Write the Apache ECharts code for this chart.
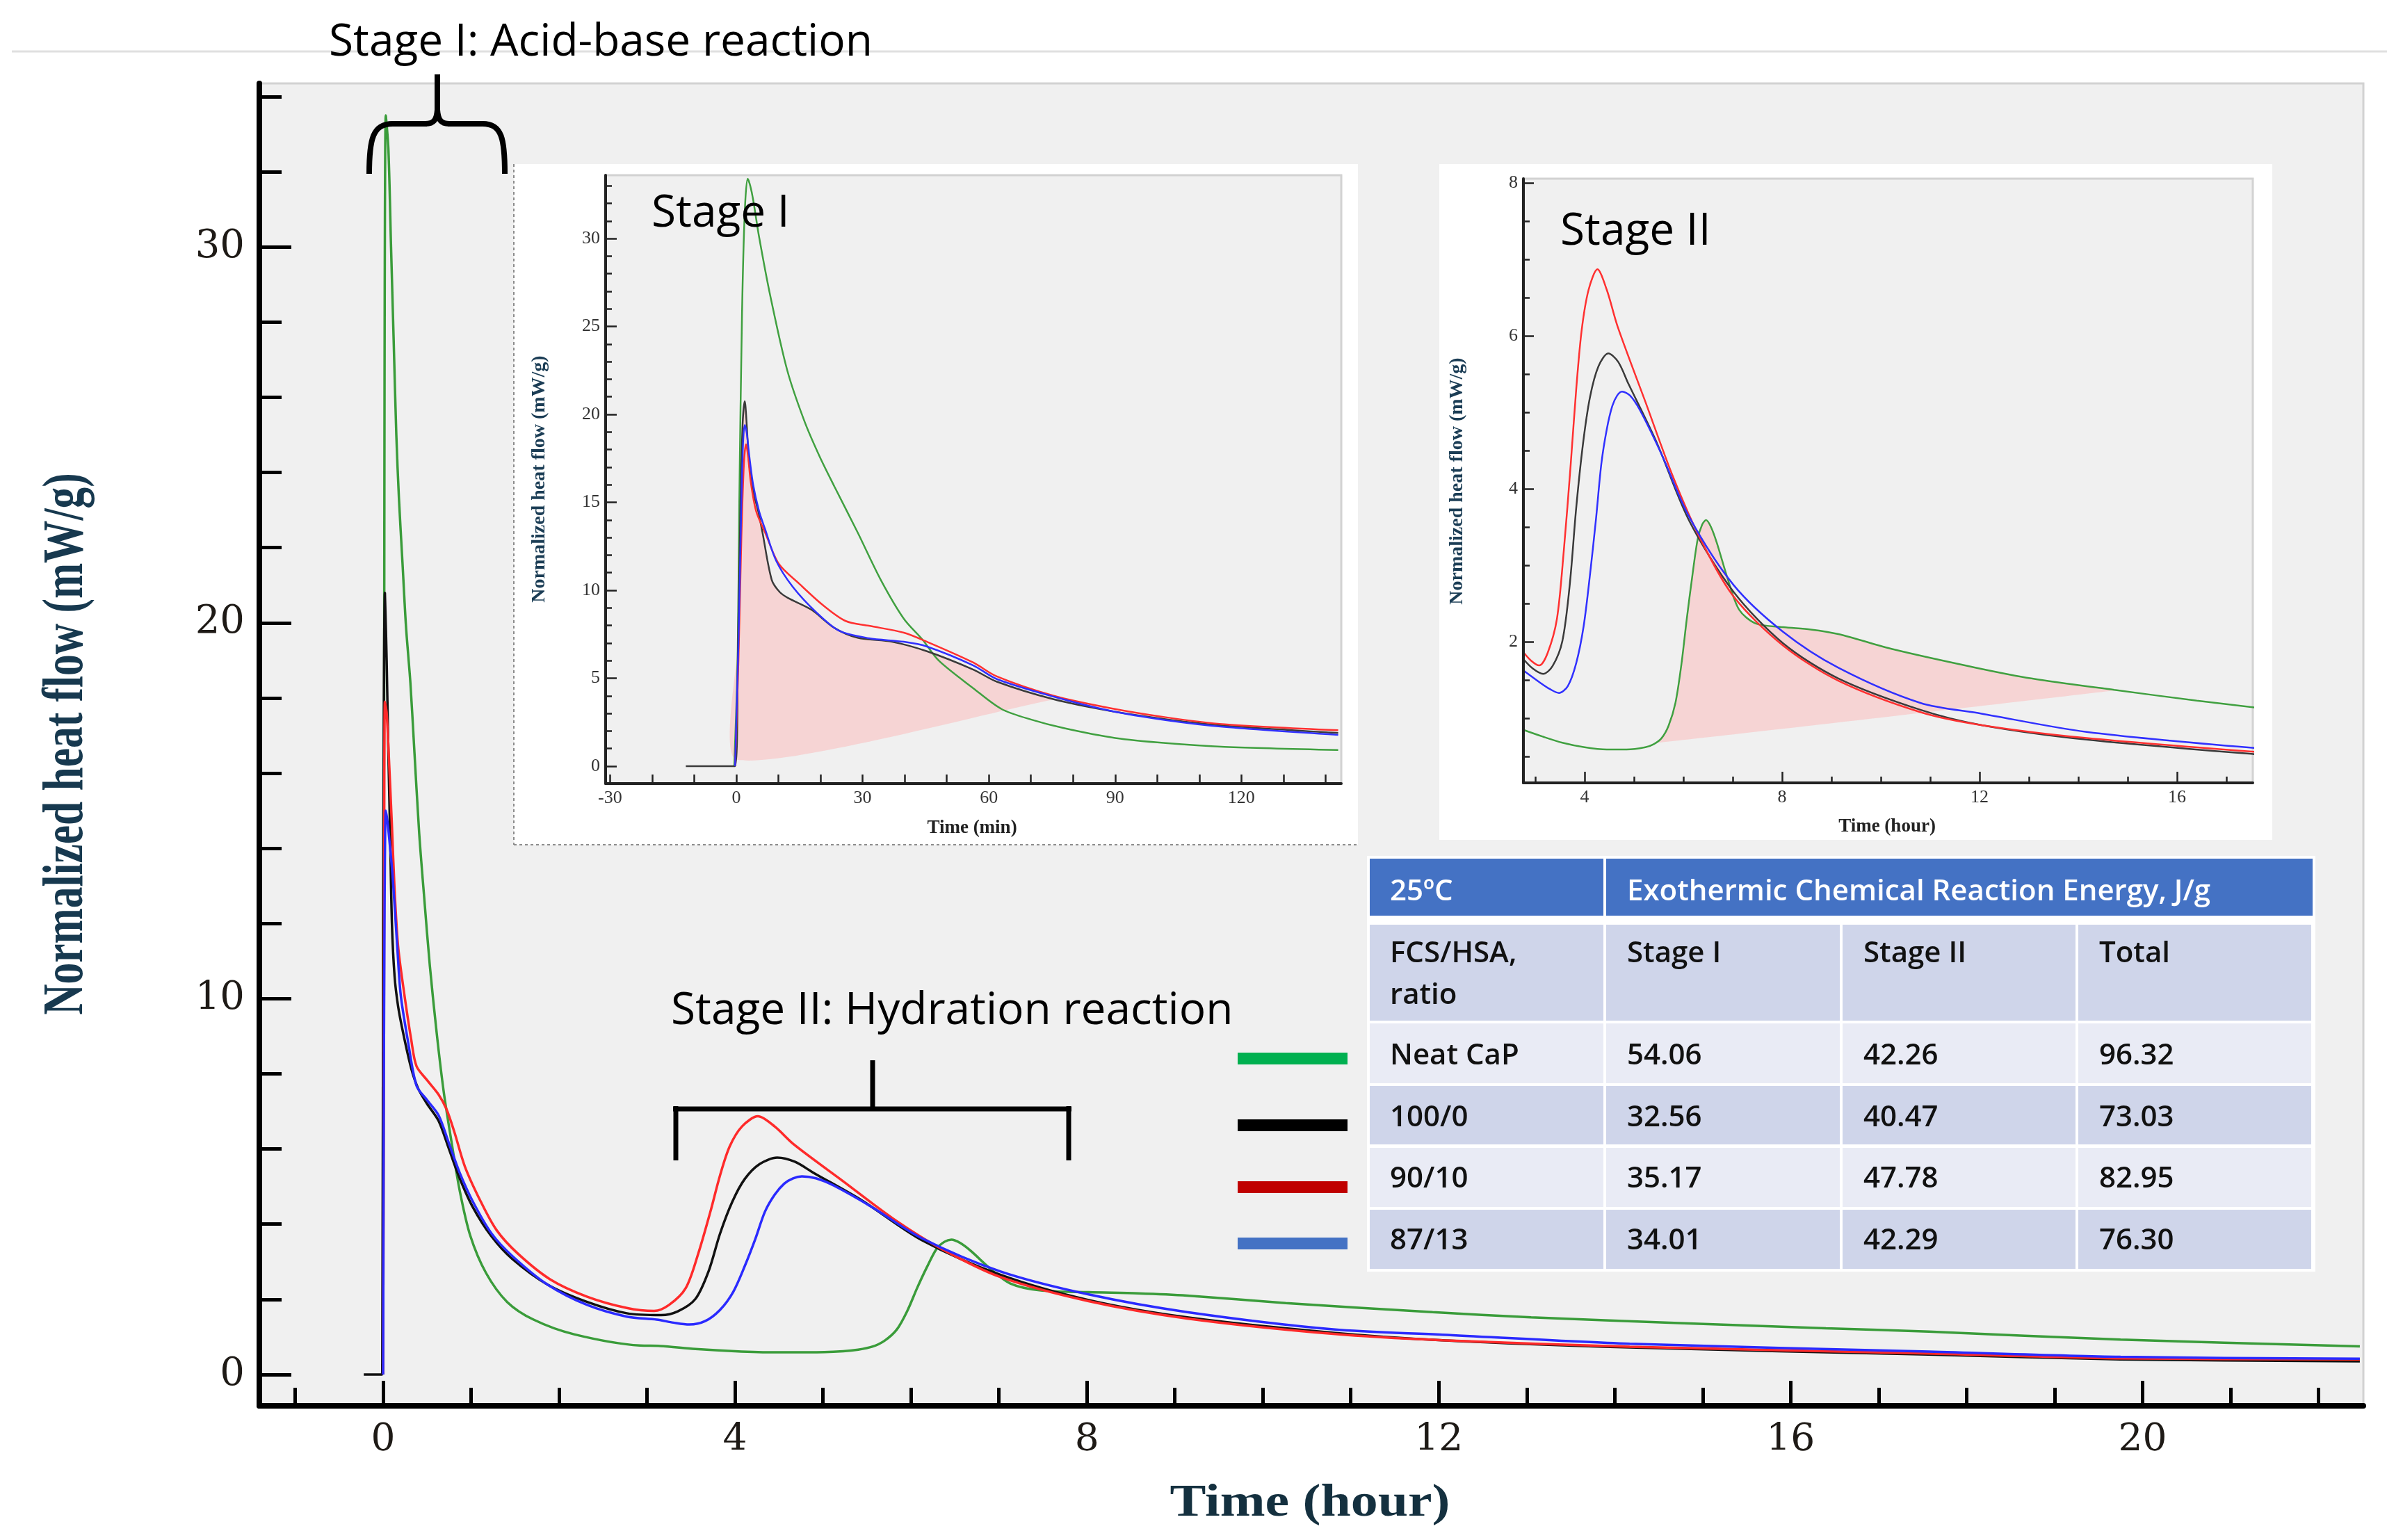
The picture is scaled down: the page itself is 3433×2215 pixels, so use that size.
<!DOCTYPE html>
<html>
<head>
<meta charset="utf-8">
<title>Normalized heat flow</title>
<script src="https://cdn.jsdelivr.net/npm/echarts@6/dist/echarts.min.js"></script>
<style>
  html, body { margin: 0; padding: 0; background: #fff; }
  #main { width: 3433px; height: 2215px; }
</style>
</head>
<body>
<div id="main"></div>
<script>
// series names and colours (main plot, insets, legend swatches)
const seriesNames = ["Neat CaP", "100/0", "90/10", "87/13"];
const mainColors = ["#3a9c3a", "#111111", "#ff2a2a", "#2a2aff"];
const insetColors = ["#40a040", "#3a3a3a", "#ff3030", "#3030ff"];
const swatchColors = ["#00b050", "#000000", "#c00000", "#4472c4"];

// main plot, first hours: [time (hour), heat flow (mW/g)]
const mainEarlyNeat = [[0, 0], [0.01, 16], [0.03, 33.5], [0.06, 32.6], [0.09, 30], [0.12, 27.5], [0.15, 25], [0.18, 23.3], [0.22, 21.6], [0.26, 19.9], [0.31, 18.4], [0.35, 16.8], [0.41, 14.4], [0.47, 12.6], [0.53, 10.9], [0.61, 9.06], [0.69, 7.5], [0.78, 6.15], [0.87, 4.9], [0.99, 3.7], [1.17, 2.7], [1.41, 1.93], [1.71, 1.46], [2.17, 1.07], [2.92, 0.77]];
const mainEarlyBlack = [[-0.22, 0], [-0.01, 0], [0.0, 12], [0.02, 20.8], [0.04, 19.0], [0.06, 16.5], [0.08, 14.3], [0.1, 12.0], [0.13, 10.6], [0.17, 9.8], [0.23, 9.06], [0.32, 8.14], [0.4, 7.6], [0.5, 7.2], [0.63, 6.75], [0.75, 5.99], [0.87, 5.22], [1.02, 4.45], [1.23, 3.68], [1.47, 3.07], [1.87, 2.39], [2.32, 1.93], [2.77, 1.63]];
const mainEarlyRed = [[0, 0], [0.01, 10], [0.02, 17.9], [0.04, 17.6], [0.06, 16.7], [0.1, 14.6], [0.13, 12.9], [0.17, 11.4], [0.23, 10.3], [0.32, 8.9], [0.38, 8.2], [0.5, 7.83], [0.63, 7.45], [0.72, 7.06], [0.81, 6.45], [0.93, 5.53], [1.11, 4.6], [1.29, 3.84], [1.53, 3.22], [1.9, 2.53], [2.32, 2.07], [2.77, 1.77]];
const mainEarlyBlue = [[0, 0], [0.01, 9], [0.03, 15.0], [0.05, 14.7], [0.08, 14.0], [0.11, 13.2], [0.16, 11.4], [0.2, 10.1], [0.28, 8.9], [0.38, 7.68], [0.5, 7.3], [0.63, 6.9], [0.75, 6.14], [0.87, 5.37], [1.02, 4.6], [1.23, 3.76], [1.47, 3.15], [1.87, 2.39], [2.32, 1.85], [2.77, 1.54]];

// stage II (hours), used by the right inset and by the main plot
const stage2Neat = [[2.75, 0.85], [3.15, 0.76], [3.55, 0.68], [4.0, 0.62], [4.45, 0.59], [4.85, 0.59], [5.23, 0.62], [5.4, 0.66], [5.56, 0.74], [5.7, 0.9], [5.84, 1.2], [5.96, 1.7], [6.07, 2.3], [6.18, 2.85], [6.29, 3.34], [6.38, 3.53], [6.46, 3.59], [6.56, 3.5], [6.68, 3.29], [6.9, 2.82], [7.13, 2.42], [7.46, 2.24], [8.02, 2.19], [8.58, 2.16], [9.14, 2.1], [10.26, 1.9], [11.93, 1.66], [13.05, 1.52], [14.73, 1.37], [16.4, 1.23], [17.57, 1.14]];
const stage2Black = [[2.75, 1.78], [2.95, 1.65], [3.16, 1.58], [3.35, 1.68], [3.55, 2.01], [3.7, 2.75], [3.83, 3.75], [3.97, 4.6], [4.11, 5.2], [4.28, 5.6], [4.48, 5.77], [4.68, 5.66], [4.89, 5.37], [5.45, 4.62], [6.12, 3.58], [7.02, 2.65], [8.02, 1.98], [9.14, 1.52], [10.8, 1.11], [12.04, 0.91], [14.17, 0.72], [17.57, 0.53]];
const stage2Red = [[2.75, 1.87], [2.92, 1.75], [3.08, 1.69], [3.25, 1.85], [3.44, 2.3], [3.58, 3.2], [3.72, 4.33], [3.83, 5.3], [3.94, 6.07], [4.08, 6.6], [4.26, 6.87], [4.45, 6.6], [4.67, 6.12], [5.23, 5.14], [5.79, 4.16], [6.35, 3.34], [7.02, 2.59], [8.02, 1.95], [9.14, 1.49], [10.8, 1.08], [12.04, 0.91], [14.17, 0.74], [17.57, 0.56]];
const stage2Blue = [[2.75, 1.63], [3.11, 1.46], [3.3, 1.38], [3.48, 1.33], [3.66, 1.42], [3.83, 1.72], [3.98, 2.2], [4.11, 2.88], [4.23, 3.6], [4.34, 4.33], [4.45, 4.78], [4.56, 5.08], [4.66, 5.22], [4.76, 5.27], [4.92, 5.22], [5.12, 5.03], [5.56, 4.45], [6.12, 3.63], [7.02, 2.74], [8.02, 2.13], [9.14, 1.66], [10.8, 1.2], [12.04, 1.06], [14.17, 0.82], [17.57, 0.61]];

// main plot, tail
const mainLateNeat = [[19.75, 0.93], [22.47, 0.75]];
const mainLateBlack = [[19.75, 0.4], [22.47, 0.35]];
const mainLateRed = [[19.75, 0.43], [22.47, 0.4]];
const mainLateBlue = [[19.75, 0.47], [22.47, 0.42]];

// stage I inset: [time (min), heat flow (mW/g)]
const stage1Neat = [[-0.5, 0], [0.3, 6], [0.7, 15], [1.35, 25.7], [2.0, 31.5], [2.7, 33.4], [3.3, 33.0], [4.0, 32.2], [5.4, 30.1], [8.1, 26.7], [12.1, 22.5], [16.2, 19.6], [19.8, 17.6], [23.3, 15.9], [28.8, 13.3], [34.3, 10.6], [39.8, 8.38], [44.2, 7.2], [48.1, 6.0], [56.3, 4.43], [63, 3.25], [70, 2.65], [78, 2.15], [90, 1.6], [102, 1.31], [116, 1.1], [143, 0.92]];
const stage1Black = [[-12, 0], [-0.3, 0], [0.4, 7], [1.0, 15], [1.5, 19.5], [2.0, 20.75], [2.5, 19.3], [3.0, 17.3], [4.0, 15.6], [5.1, 14.6], [6.2, 13.3], [8.4, 10.6], [10.3, 9.9], [12.3, 9.56], [17.8, 8.9], [23.3, 7.86], [28.8, 7.3], [37, 7.07], [45.3, 6.53], [56.3, 5.49], [61.9, 4.8], [75.4, 3.8], [88.8, 3.14], [102, 2.67], [116, 2.3], [143, 1.89]];
const stage1Red = [[-0.3, 0], [0.5, 6], [1.2, 13], [1.8, 17.2], [2.3, 18.3], [2.8, 17.6], [3.4, 16.2], [4.7, 14.5], [6.8, 13.3], [10.1, 11.5], [15, 10.36], [20.5, 9.17], [26, 8.25], [31.5, 7.98], [39.8, 7.59], [45.3, 7.07], [56.3, 5.89], [61.9, 5.1], [75.4, 4.0], [88.8, 3.3], [102, 2.78], [116, 2.38], [143, 2.04]];
const stage1Blue = [[-0.3, 0], [0.5, 7], [1.2, 15], [1.6, 18.4], [2.0, 19.4], [2.5, 18.9], [3.0, 17.8], [4.0, 16.0], [5.4, 14.5], [6.8, 13.5], [9.5, 11.66], [13.4, 10.2], [18.9, 8.77], [24.4, 7.7], [31.5, 7.27], [39.8, 7.07], [45.3, 6.8], [56.3, 5.73], [61.9, 4.95], [75.4, 3.95], [88.8, 3.15], [102, 2.62], [116, 2.23], [143, 1.78]];

// straight baselines of the shaded integration areas
const stage1FillBase = [[0.2, 0.36], [76, 3.82]];
const stage2FillBase = [[5.5, 0.68], [14.84, 1.37]];

// ticks and labels
const mainHourTicks = [-1, 0, 1, 2, 3, 4, 5, 6, 7, 8, 9, 10, 11, 12, 13, 14, 15, 16, 17, 18, 19, 20, 21, 22];
const mainHourLabels = [0, 4, 8, 12, 16, 20];
const mainFlowTicks = [0, 2, 4, 6, 8, 10, 12, 14, 16, 18, 20, 22, 24, 26, 28, 30, 32, 34];
const mainFlowLabels = [0, 10, 20, 30];
const stage1MinTicks = [-30, -20, -10, 0, 10, 20, 30, 40, 50, 60, 70, 80, 90, 100, 110, 120, 130, 140];
const stage1MinLabels = [-30, 0, 30, 60, 90, 120];
const stage1FlowTicks = [0, 1, 2, 3, 4, 5, 6, 7, 8, 9, 10, 11, 12, 13, 14, 15, 16, 17, 18, 19, 20, 21, 22, 23, 24, 25, 26, 27, 28, 29, 30, 31, 32, 33];
const stage1FlowLabels = [0, 5, 10, 15, 20, 25, 30];
const stage2HourTicks = [3, 4, 5, 6, 7, 8, 9, 10, 11, 12, 13, 14, 15, 16, 17];
const stage2HourLabels = [4, 8, 12, 16];
const stage2FlowTicks = [0.5, 1, 1.5, 2, 2.5, 3, 3.5, 4, 4.5, 5, 5.5, 6, 6.5, 7, 7.5, 8];
const stage2FlowLabels = [2, 4, 6, 8];

// energy table
const tableRatios = ["Neat CaP", "100/0", "90/10", "87/13"];
const stageIEnergy = [54.06, 32.56, 35.17, 34.01];
const stageIIEnergy = [42.26, 40.47, 47.78, 42.29];
const totalEnergy = [96.32, 73.03, 82.95, 76.3];

// ---------------------------------------------------------------
const fromT = (arr, t0) => arr.filter((p) => p[0] >= t0);
const mainData = [
  mainEarlyNeat.concat(fromT(stage2Neat, 3.0), mainLateNeat),
  mainEarlyBlack.concat(fromT(stage2Black, 3.0), mainLateBlack),
  mainEarlyRed.concat(fromT(stage2Red, 3.0), mainLateRed),
  mainEarlyBlue.concat(fromT(stage2Blue, 3.0), mainLateBlue),
];
const stage1Data = [stage1Neat, stage1Black, stage1Red, stage1Blue];
const stage2Data = [stage2Neat, stage2Black, stage2Red, stage2Blue];

function valueAxis(grid, min, max, ticks, labels, o) {
  return {
    type: "value", gridIndex: grid, min: min, max: max, z: 5,
    position: o.position,
    splitLine: { show: false },
    axisLine: { show: o.line !== false, onZero: false, lineStyle: { color: o.color, width: o.lineWidth } },
    axisTick: { show: true, inside: true, length: o.tickLen, customValues: ticks, lineStyle: { color: o.color, width: o.tickWidth } },
    axisLabel: labels ? {
      customValues: labels, margin: o.margin, fontFamily: o.font, fontSize: o.fontSize, color: o.labelColor,
    } : { show: false },
  };
}

const mainStyle = { color: "#000", lineWidth: 8, tickWidth: 5, font: "DejaVu Serif", fontSize: 55, labelColor: "#1e1a16" };
const insetStyle = { color: "#222", lineWidth: 4, tickWidth: 2.5, font: "Liberation Serif", fontSize: 26, labelColor: "#333", margin: 8 };

const xAxes = [
  valueAxis(0, -1.407, 22.51, mainHourTicks, mainHourLabels, Object.assign({}, mainStyle, { position: "bottom", tickLen: 26, margin: 22 })),
  valueAxis(0, -1.407, 22.51, mainHourLabels, null, Object.assign({}, mainStyle, { position: "bottom", tickLen: 36, line: false })),
  valueAxis(1, -31.06, 143.73, stage1MinTicks, stage1MinLabels, Object.assign({}, insetStyle, { position: "bottom", tickLen: 13 })),
  valueAxis(2, 2.761, 17.535, stage2HourTicks, stage2HourLabels, Object.assign({}, insetStyle, { position: "bottom", tickLen: 9 })),
  valueAxis(2, 2.761, 17.535, stage2HourLabels, null, Object.assign({}, insetStyle, { position: "bottom", tickLen: 16, line: false })),
];
const yAxes = [
  valueAxis(0, -0.833, 34.35, mainFlowTicks, mainFlowLabels, Object.assign({}, mainStyle, { position: "left", tickLen: 32, margin: 21, fontSize: 56 })),
  valueAxis(0, -0.833, 34.35, mainFlowLabels, null, Object.assign({}, mainStyle, { position: "left", tickLen: 46, line: false })),
  valueAxis(1, -0.99, 33.6, stage1FlowTicks, stage1FlowLabels, Object.assign({}, insetStyle, { position: "left", tickLen: 9 })),
  valueAxis(1, -0.99, 33.6, stage1FlowLabels, null, Object.assign({}, insetStyle, { position: "left", tickLen: 16, line: false })),
  valueAxis(2, 0.1545, 8.055, stage2FlowTicks, stage2FlowLabels, Object.assign({}, insetStyle, { position: "left", tickLen: 9 })),
  valueAxis(2, 0.1545, 8.055, stage2FlowLabels, null, Object.assign({}, insetStyle, { position: "left", tickLen: 15, line: false })),
];

function lineSeries(name, data, color, width, xi, yi) {
  return {
    type: "line", name: name, data: data, xAxisIndex: xi, yAxisIndex: yi,
    showSymbol: false, smooth: 0.3, z: 3, silent: true,
    lineStyle: { color: color, width: width }, itemStyle: { color: color },
  };
}

// shaded area between a curve and its straight baseline
function fillSeries(curve, base, xi, yi) {
  return {
    type: "custom", xAxisIndex: xi, yAxisIndex: yi, z: 2, silent: true,
    data: [base[0]],
    renderItem: function (params, api) {
      const pts = [api.coord(base[0])];
      curve.forEach(function (p) {
        if (p[0] > base[0][0] && p[0] < base[1][0]) pts.push(api.coord(p));
      });
      pts.push(api.coord(base[1]));
      return { type: "polygon", shape: { points: pts, smooth: 0.2 }, style: { fill: "#f6d0d0", opacity: 0.9 } };
    },
  };
}

const series = [];
series.push(fillSeries(stage1Black, stage1FillBase, 2, 2));
series.push(fillSeries(stage2Neat, stage2FillBase, 3, 4));
[0, 1, 2, 3].forEach(function (i) {
  series.push(lineSeries(seriesNames[i], mainData[i], mainColors[i], 3.5, 0, 0));
  series.push(lineSeries(seriesNames[i], stage1Data[i], insetColors[i], 2.5, 2, 2));
  series.push(lineSeries(seriesNames[i], stage2Data[i], insetColors[i], 2.5, 3, 4));
});

// ---------------------------------------------------------------
// page decorations: inset frames, titles, brackets, legend swatches, table
function txt(x, y, text, o) {
  return {
    type: "text", x: x, y: y, z: 10, silent: true,
    rotation: o.rotation || 0, scaleX: o.scaleX || 1,
    style: {
      text: text, fill: o.color || "#000", fontFamily: o.font || "Open Sans",
      fontSize: o.size, fontWeight: o.weight || "normal",
      align: o.align || "left", verticalAlign: "middle",
      textAlign: o.align || "left", textVerticalAlign: "middle",
    },
  };
}

const bracketStyle = { fill: "none", stroke: "#000", lineWidth: 8 };
function curve(x1, y1, cx1, cy1, cx2, cy2, x2, y2) {
  return { type: "bezierCurve", z: 10, silent: true, shape: { x1: x1, y1: y1, cpx1: cx1, cpy1: cy1, cpx2: cx2, cpy2: cy2, x2: x2, y2: y2 }, style: bracketStyle };
}
function seg(x1, y1, x2, y2, w) {
  return { type: "line", z: 10, silent: true, shape: { x1: x1, y1: y1, x2: x2, y2: y2 }, style: { stroke: "#000", lineWidth: w } };
}

const graphics = [
  { type: "line", z: 1, shape: { x1: 17, y1: 74, x2: 3433, y2: 74 }, style: { stroke: "#e0e0e0", lineWidth: 3 } },
  // stage I inset frame
  { type: "rect", z: 1, shape: { x: 739, y: 236, width: 1214, height: 979 }, style: { fill: "#ffffff" } },
  { type: "line", z: 1, shape: { x1: 739, y1: 236, x2: 739, y2: 1215 }, style: { stroke: "#8c8c8c", lineWidth: 2, lineDash: [4, 4] } },
  { type: "line", z: 1, shape: { x1: 739, y1: 1215, x2: 1953, y2: 1215 }, style: { stroke: "#8c8c8c", lineWidth: 2, lineDash: [4, 4] } },
  { type: "rect", z: 1, shape: { x: 871, y: 252, width: 1058, height: 875 }, style: { fill: "#f0f0f0", stroke: "#d2d2d2", lineWidth: 3 } },
  // stage II inset frame
  { type: "rect", z: 1, shape: { x: 2070, y: 236, width: 1198, height: 972 }, style: { fill: "#ffffff" } },
  { type: "rect", z: 1, shape: { x: 2191, y: 257, width: 1049, height: 869 }, style: { fill: "#f0f0f0", stroke: "#d2d2d2", lineWidth: 3 } },

  // axis titles
  txt(97, 1070, "Normalized heat flow (mW/g)", { font: "Liberation Serif", weight: "bold", size: 83, color: "#17394f", align: "center", rotation: Math.PI / 2, scaleX: 0.74 }),
  txt(1884, 2163, "Time (hour)", { font: "Liberation Serif", weight: "bold", size: 66, color: "#14303f", align: "center", scaleX: 1.18 }),
  txt(776, 689, "Normalized heat flow (mW/g)", { font: "Liberation Serif", weight: "bold", size: 28, color: "#1b3d55", align: "center", rotation: Math.PI / 2 }),
  txt(1398, 1191, "Time (min)", { font: "Liberation Serif", weight: "bold", size: 27, color: "#222", align: "center" }),
  txt(2096, 692, "Normalized heat flow (mW/g)", { font: "Liberation Serif", weight: "bold", size: 28, color: "#1b3d55", align: "center", rotation: Math.PI / 2 }),
  txt(2714, 1189, "Time (hour)", { font: "Liberation Serif", weight: "bold", size: 27, color: "#222", align: "center" }),

  // stage annotations
  txt(473, 62, "Stage I: Acid-base reaction", { size: 64 }),
  txt(965, 1455, "Stage II: Hydration reaction", { size: 64 }),
  txt(937, 308, "Stage I", { size: 64 }),
  txt(2244, 334, "Stage II", { size: 64 }),
  // curly brace over stage I
  curve(531, 250, 531, 200, 536, 178, 565, 178),
  seg(563, 178, 614, 178, 8),
  curve(612, 178, 624, 178, 628, 172, 629, 158),
  seg(629, 160, 629, 107, 8),
  curve(629, 158, 630, 172, 634, 178, 646, 178),
  seg(644, 178, 696, 178, 8),
  curve(694, 178, 722, 178, 726, 200, 726, 250),
  // square bracket over stage II
  seg(972, 1591, 972, 1669, 7),
  seg(968, 1595, 1541, 1595, 7),
  seg(1537, 1591, 1537, 1669, 7),
  seg(1255, 1595, 1255, 1525, 7),
];

// legend swatches beside the table rows
const swatchY = [1522, 1618, 1707, 1788];
swatchY.forEach(function (y, i) {
  graphics.push({ type: "rect", z: 10, silent: true, shape: { x: 1780, y: y - 8, width: 158, height: 17 }, style: { fill: swatchColors[i] } });
});

// table
const colX = [1970, 2308, 2648, 2987, 3326];
const rowY = [[1330, 1468], [1472, 1558], [1562, 1646], [1651, 1736], [1740, 1825]];
const rowFill = ["#cfd5ea", "#e9ebf5", "#cfd5ea", "#e9ebf5", "#cfd5ea"];
graphics.push({ type: "rect", z: 9, silent: true, shape: { x: 1966, y: 1231, width: 1364, height: 598 }, style: { fill: "#ffffff" } });
graphics.push({ type: "rect", z: 10, silent: true, shape: { x: 1970, y: 1235, width: colX[1] - 1972, height: 82 }, style: { fill: "#4472c4" } });
graphics.push({ type: "rect", z: 10, silent: true, shape: { x: colX[1] + 2, y: 1235, width: colX[4] - colX[1] - 2, height: 82 }, style: { fill: "#4472c4" } });
rowY.forEach(function (r, ri) {
  for (let c = 0; c < 4; c++) {
    graphics.push({
      type: "rect", z: 10, silent: true,
      shape: { x: colX[c] + (c ? 2 : 0), y: r[0], width: colX[c + 1] - colX[c] - (c ? 4 : 2), height: r[1] - r[0] },
      style: { fill: rowFill[ri] },
    });
  }
});
const cellFont = { size: 42, weight: 600, color: "#111" };
const headFont = { size: 42, weight: 600, color: "#ffffff" };
graphics.push(txt(1999, 1283, "25ºC", headFont));
graphics.push(txt(2340, 1283, "Exothermic Chemical Reaction Energy, J/g", headFont));
graphics.push(txt(1999, 1372, "FCS/HSA,", cellFont));
graphics.push(txt(1999, 1432, "ratio", cellFont));
graphics.push(txt(2340, 1372, "Stage I", cellFont));
graphics.push(txt(2680, 1372, "Stage II", cellFont));
graphics.push(txt(3019, 1372, "Total", cellFont));
const textY = [1519, 1608, 1696, 1785];
tableRatios.forEach(function (name, i) {
  graphics.push(txt(1999, textY[i], name, cellFont));
  graphics.push(txt(2340, textY[i], stageIEnergy[i].toFixed(2), cellFont));
  graphics.push(txt(2680, textY[i], stageIIEnergy[i].toFixed(2), cellFont));
  graphics.push(txt(3019, textY[i], totalEnergy[i].toFixed(2), cellFont));
});

const option = {
  backgroundColor: "#ffffff",
  animation: false,
  grid: [
    { left: 373, right: 34, top: 120, bottom: 193, show: true, backgroundColor: "#f0f0f0", borderColor: "#d2d2d2", borderWidth: 3 },
    { left: 871, right: 1504, top: 252, bottom: 1088, show: false },
    { left: 2191, right: 193, top: 257, bottom: 1089, show: false },
  ],
  xAxis: xAxes,
  yAxis: yAxes,
  series: series,
  graphic: graphics,
};

const myChart = echarts.init(document.getElementById("main"));
myChart.setOption(option);
</script>
</body>
</html>
